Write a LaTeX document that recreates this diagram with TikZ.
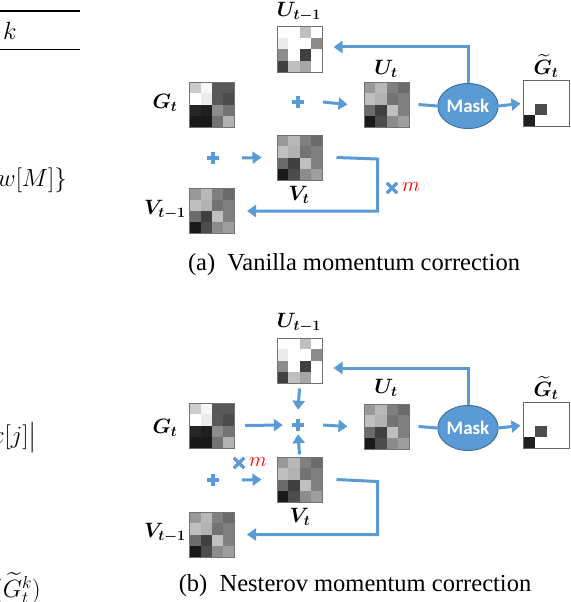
\documentclass[tikz,border=0pt]{standalone}
\usepackage{fontspec}
\usepackage{amsmath}
\usepackage{bm}
\usetikzlibrary{arrows.meta,calc,shapes.geometric}
\newfontfamily\capfont{Liberation Serif}
\newfontfamily\maskfont{Carlito}
\definecolor{ablue}{HTML}{5B9BD5}
\definecolor{dblue}{HTML}{41719C}
\tikzset{
  gridbox/.style={draw=black!55, line width=1pt, minimum size=45pt, inner sep=0pt},
  arr/.style={draw=ablue, line width=3pt, -{Triangle[length=9pt,width=12pt]}},
  ln/.style={draw=ablue, line width=3pt},
  symb/.style={minimum size=12pt, inner sep=0pt},
  symline/.style={draw=ablue, line width=4pt},
  lab/.style={font=\fontsize{20}{22}\selectfont, inner sep=0pt},
  maskn/.style={ellipse, fill=ablue, draw=dblue, line width=1pt, minimum width=54pt, minimum height=45pt, inner sep=0pt, text=white, font=\maskfont\bfseries\fontsize{19}{20}\selectfont},
  capn/.style={font=\capfont\fontsize{24.5}{28}\selectfont, inner sep=0pt},
  leftmath/.style={font=\fontsize{24}{28}\selectfont, inner sep=0pt},
  mred/.style={font=\fontsize{21}{22}\selectfont, text=red, inner sep=0pt}
}
\newcommand\mygrid[4]{%
  \foreach \v [count=\i from 0] in #4 {%
    \pgfmathtruncatemacro\cc{mod(\i,4)}%
    \pgfmathtruncatemacro\rr{int(\i/4)}%
    \fill[black!\v] (#2-22.5+\cc*11.25, #3-22.5+\rr*11.25) rectangle ++(11.25,11.25);
  }
  \node[gridbox] (#1) at (#2,#3) {};
}
\newcommand\plusat[3]{%
  \node[symb] (#1) at (#2,#3) {};
  \draw[symline] (#1.west) -- (#1.east) (#1.north) -- (#1.south);
}
\newcommand\timesat[3]{%
  \node[symb, minimum size=10pt] (#1) at (#2,#3) {};
  \draw[symline, line width=3.5pt] (#1.north west) -- (#1.south east) (#1.north east) -- (#1.south west);
}
\newcommand\gtilde[3]{%
  \fill[black!70] (#2-11,#3) rectangle ++(11.5,11.5);
  \fill[black!88] (#2-23,#3+11.5) rectangle ++(11.5,11.5);
  \node[draw=black!60, line width=1pt, minimum size=46pt, inner sep=0pt] (#1) at (#2,#3) {};
}
\def\GV{20,3,65,65,0,8,65,70,85,88,45,55,90,90,55,30}
\def\UV{0,0,25,0,8,0,0,45,45,0,75,0,75,25,35,0}
\def\VV{40,28,50,58,25,30,55,50,58,75,25,50,90,70,45,38}
\begin{document}
\begin{tikzpicture}[x=1pt,y=-1pt]
\useasboundingbox (0,0) rectangle (570,602);
% left column fragments
\begin{scope}
\clip (0,0) rectangle (570,602);
\draw[line width=2pt] (0,11.5) -- (80,11.5);
\draw[line width=0.8pt] (0,49) -- (80,49);
\node[leftmath, anchor=west] (k) at (3,31) {$k$};
\node[leftmath, anchor=east] (wm) at (67,180) {$\{w[M]\}$};
\node[leftmath, anchor=east] (xj) at (37,437) {$x[j]\big|$};
\node[leftmath, anchor=east] (gk) at (41,588) {$(\widetilde{G}^k_t)$};
\end{scope}

% ---------------- panel (a) ----------------
\mygrid{Um1a}{299.5}{49.5}{\UV}
\mygrid{Ga}{212}{104.5}{\GV}
\mygrid{Ua}{386.5}{104.5}{\VV}
\mygrid{Va}{299.5}{157.5}{\VV}
\mygrid{Vm1a}{212}{211}{\VV}
\gtilde{Gta}{546}{103.5}
\node[maskn] (ma) at (468,106) {Mask};
\plusat{pa1}{298}{102}
\plusat{pa2}{213}{158}
\timesat{xa}{392}{188}
\node[mred, anchor=west] (ma_m) at (402,187) {$m$};

\node[lab] (lUm1a) at (299,12) {$\bm{U_{t-1}}$};
\node[lab] (lGa) at (165,103) {$\bm{G_{t}}$};
\node[lab] (lUa) at (386,69) {$\bm{U_{t}}$};
\node[lab] (lGta) at (546,66) {$\widetilde{\bm{G}}_{\bm{t}}$};
\node[lab] (lVa) at (299,195) {$\bm{V_{t}}$};
\node[lab] (lVm1a) at (165,210) {$\bm{V_{t-1}}$};

\draw[arr] ([xshift=25pt]pa1.center) -- ([xshift=-16pt]Ua.west);
\draw[ln] ([xshift=9pt]Ua.east) -- (ma.west);
\draw[arr] (ma.east) -- ([xshift=-2pt]Gta.west);
\draw[arr] (ma.north) |- ($(Um1a.east)+(11,-2.5)$);
\draw[arr] ([xshift=29pt]pa2.center) -- ([xshift=-15pt]Va.west);
\draw[arr] ([xshift=14pt]Va.east) -- ++(41,1.5) |- ([xshift=12pt]Vm1a.east);

\node[capn] (capa) at (354,265) {(a)\enspace Vanilla momentum correction};

% ---------------- panel (b) ----------------
\mygrid{Um1b}{299.5}{360.5}{\UV}
\mygrid{Gb}{212}{425.5}{\GV}
\mygrid{Ub}{386.5}{426.5}{\VV}
\mygrid{Vb}{299.5}{479.5}{\VV}
\mygrid{Vm1b}{212}{534.5}{\VV}
\gtilde{Gtb}{546}{425.5}
\node[maskn] (mb) at (468,428) {Mask};
\plusat{pb1}{298}{425}
\plusat{pb2}{213}{480}
\timesat{xb}{239}{463}
\node[mred, anchor=west] (mb_m) at (249,462) {$m$};

\node[lab] (lUm1b) at (299,323) {$\bm{U_{t-1}}$};
\node[lab] (lGb) at (165,428) {$\bm{G_{t}}$};
\node[lab] (lUb) at (386,388) {$\bm{U_{t}}$};
\node[lab] (lGtb) at (546,388) {$\widetilde{\bm{G}}_{\bm{t}}$};
\node[lab] (lVb) at (300,517) {$\bm{V_{t}}$};
\node[lab] (lVm1b) at (165,533) {$\bm{V_{t-1}}$};

\draw[arr] ([xshift=10pt]Gb.east) -- ([xshift=-9pt]pb1.west);
\draw[arr] ([yshift=-5pt]Um1b.south) -- ([yshift=9pt]pb1.north);
\draw[arr] ([yshift=2pt]Vb.north) -- ([yshift=-3pt]pb1.south);
\draw[arr] ([xshift=25pt]pb1.center) -- ([xshift=-16pt]Ub.west);
\draw[ln] ([xshift=9pt]Ub.east) -- (mb.west);
\draw[arr] (mb.east) -- ([xshift=-2pt]Gtb.west);
\draw[arr] (mb.north) |- ($(Um1b.east)+(11,7.5)$);
\draw[arr] ([xshift=29pt]pb2.center) -- ([xshift=-15pt]Vb.west);
\draw[arr] ([xshift=14pt]Vb.east) -- ++(41,2) |- ([xshift=12pt]Vm1b.east);

\node[capn] (capb) at (355,586) {(b)\enspace Nesterov momentum correction};
\end{tikzpicture}
\end{document}
